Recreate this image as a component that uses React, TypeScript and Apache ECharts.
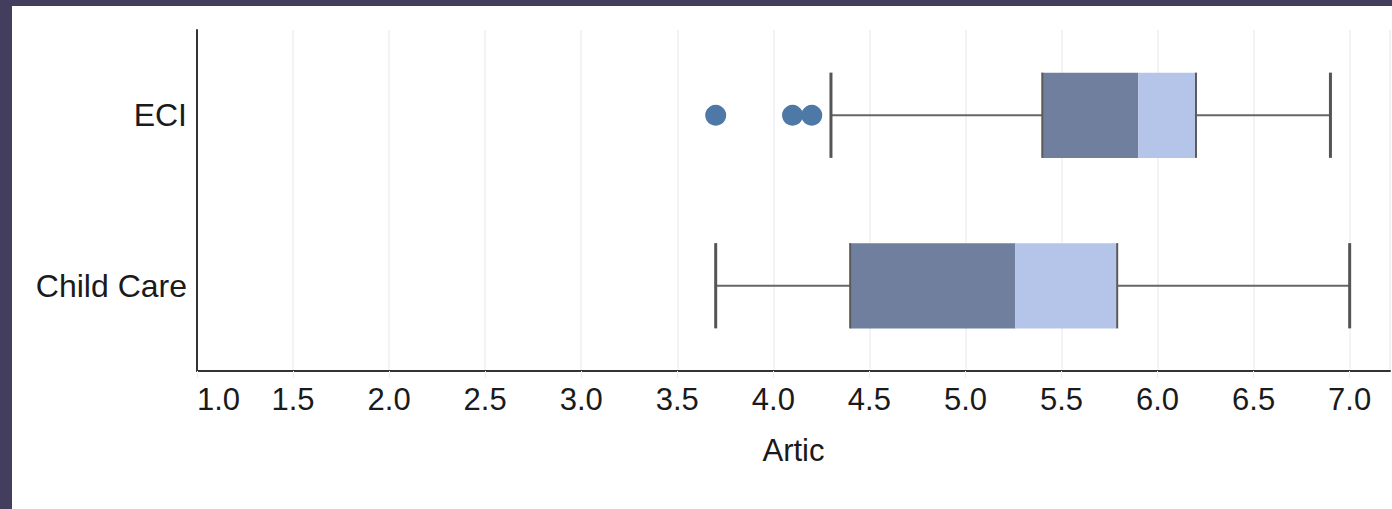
import React, { useEffect, useRef } from "react";
import * as echarts from "echarts";

// Categories (bottom to top on the y axis)
const categories = ["Child Care", "ECI"];
// Box stats per category: [min whisker, q1, median, q3, max whisker]
const boxStats = [
  [3.7, 4.4, 5.26, 5.79, 7.0],
  [4.3, 5.4, 5.9, 6.2, 6.9],
];
// Outliers: [value, categoryIndex]
const outlierValues = [3.7, 4.1, 4.2];
const outlierCategory = ["ECI", "ECI", "ECI"];
const xAxisName = "Artic";

const FONT = "'Liberation Sans', Arial, sans-serif";

export default function App() {
  const ref = useRef<HTMLDivElement>(null);
  useEffect(() => {
    if (!ref.current) return;
    const chart = echarts.init(ref.current, null, { renderer: "svg" });
    const customData = boxStats.map((s, i) => [i, ...s]);
    const scatterData = outlierValues.map((v, i) => [v, outlierCategory[i]]);
    chart.setOption({
      animation: false,
      grid: { left: 185, right: 2, top: 24, bottom: 138 },
      xAxis: {
        type: "value",
        min: 1,
        max: 7.21,
        interval: 0.5,
        name: xAxisName,
        nameLocation: "middle",
        nameGap: 64,
        nameTextStyle: { fontSize: 31, color: "#1a1a1a", fontFamily: FONT },
        axisLine: { show: true, lineStyle: { color: "#333", width: 2 } },
        axisTick: { show: true, length: 7, lineStyle: { color: "#eeeeee", width: 1 } },
        axisLabel: {
          fontSize: 31,
          color: "#1a1a1a",
          fontFamily: FONT,
          margin: 13,
          showMaxLabel: false,
          alignMinLabel: "left",
          formatter: (v: number) => v.toFixed(1),
        },
        splitLine: { show: true, lineStyle: { color: "#efefef", width: 1.5 } },
      },
      yAxis: {
        type: "category",
        data: categories,
        axisLine: { show: true, lineStyle: { color: "#333", width: 2 } },
        axisTick: { show: false },
        axisLabel: { fontSize: 32, color: "#1a1a1a", fontFamily: FONT, margin: 10 },
        splitLine: { show: false },
      },
      series: [
        {
          type: "custom",
          data: customData,
          encode: { x: [1, 2, 3, 4, 5], y: 0 },
          renderItem: (params: any, api: any) => {
            const cat = api.value(0);
            const mn = api.value(1);
            const q1 = api.value(2);
            const md = api.value(3);
            const q3 = api.value(4);
            const mx = api.value(5);
            const band = api.size([0, 1])[1];
            const h = band * 0.25;
            const pMin = api.coord([mn, cat]);
            const pQ1 = api.coord([q1, cat]);
            const pMd = api.coord([md, cat]);
            const pQ3 = api.coord([q3, cat]);
            const pMax = api.coord([mx, cat]);
            const cy = pMin[1];
            return {
              type: "group",
              children: [
                {
                  type: "line",
                  shape: { x1: pMin[0], y1: cy, x2: pQ1[0], y2: cy },
                  style: { stroke: "#666", lineWidth: 2 },
                },
                {
                  type: "line",
                  shape: { x1: pQ3[0], y1: cy, x2: pMax[0], y2: cy },
                  style: { stroke: "#666", lineWidth: 2 },
                },
                {
                  type: "rect",
                  shape: { x: pQ1[0], y: cy - h, width: pMd[0] - pQ1[0], height: 2 * h },
                  style: { fill: "#717f9e" },
                },
                {
                  type: "rect",
                  shape: { x: pMd[0], y: cy - h, width: pQ3[0] - pMd[0], height: 2 * h },
                  style: { fill: "#b5c5e9" },
                },
                {
                  type: "line",
                  shape: { x1: pQ1[0], y1: cy - h, x2: pQ1[0], y2: cy + h },
                  style: { stroke: "#5a5a5a", lineWidth: 2 },
                },
                {
                  type: "line",
                  shape: { x1: pQ3[0], y1: cy - h, x2: pQ3[0], y2: cy + h },
                  style: { stroke: "#5a5a5a", lineWidth: 2 },
                },
                {
                  type: "line",
                  shape: { x1: pMin[0], y1: cy - h, x2: pMin[0], y2: cy + h },
                  style: { stroke: "#555", lineWidth: 3 },
                },
                {
                  type: "line",
                  shape: { x1: pMax[0], y1: cy - h, x2: pMax[0], y2: cy + h },
                  style: { stroke: "#555", lineWidth: 3 },
                },
              ],
            };
          },
        },
        {
          type: "scatter",
          data: scatterData,
          symbol: "circle",
          symbolSize: 21,
          itemStyle: { color: "#4e79a7", opacity: 1 },
          z: 3,
        },
      ],
    });
    return () => chart.dispose();
  }, []);

  return (
    <div
      style={{
        position: "fixed",
        left: 0,
        top: 0,
        width: 1392,
        height: 509,
        background: "#433d5e",
      }}
    >
      <div
        ref={ref}
        style={{
          position: "absolute",
          left: 12,
          top: 6,
          width: 1380,
          height: 503,
          background: "#ffffff",
        }}
      />
    </div>
  );
}
